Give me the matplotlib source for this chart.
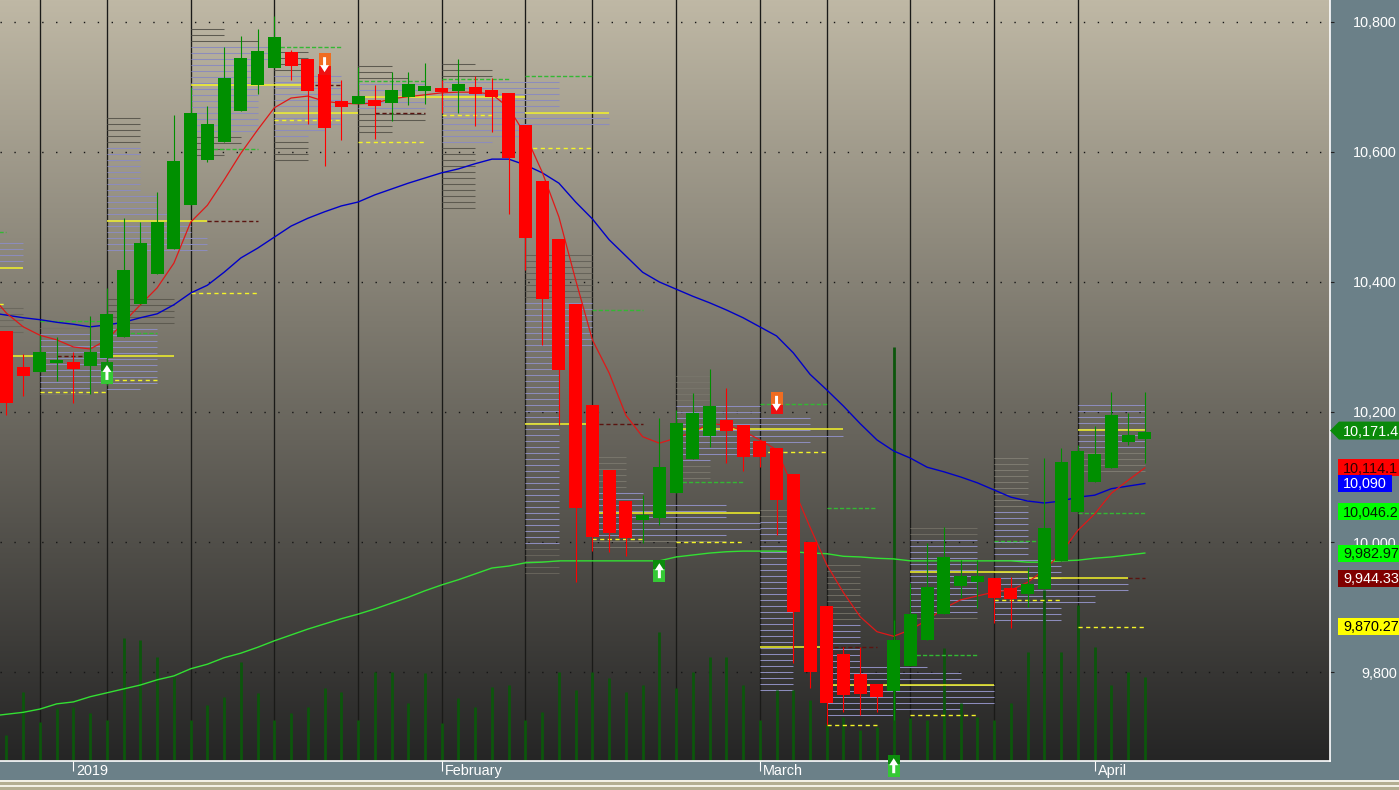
import numpy as np
import matplotlib as mpl
mpl.use("Agg")
import matplotlib.pyplot as plt
from matplotlib.colors import LinearSegmentedColormap
from matplotlib.patches import Polygon, Rectangle
from matplotlib.transforms import ScaledTranslation, blended_transform_factory

plt.rcParams["font.family"] = ["Liberation Sans", "DejaVu Sans"]

FIG_W, FIG_H = 1399, 790
PLOT_W, PLOT_H = 1330, 761
BAR_X0, BAR_DX = 6.5, 16.74
PRICE_TOP, PRICE_BOTTOM = 10833.8, 9663.1
PRICE_PER_PX = (PRICE_TOP - PRICE_BOTTOM) / PLOT_H
FONT_SIZE = 10.4

opens = [10325, 10269, 10262, 10275, 10277, 10271, 10283, 10315, 10366, 10412, 10451, 10518,
         10588, 10615, 10663, 10703, 10729, 10754, 10743, 10720, 10678, 10674, 10680, 10675,
         10685, 10694, 10698, 10694, 10700, 10695, 10691, 10642, 10555, 10466, 10366, 10211,
         10111, 10063, 10034, 10037, 10075, 10128, 10163, 10188, 10180, 10155, 10145, 10105,
         10000, 9902, 9828, 9797, 9782, 9771, 9809, 9849, 9889, 9932, 9938, 9945,
         9929, 9920, 9928, 9971, 10046, 10092, 10114, 10154, 10158]
highs = [10325, 10289, 10318, 10315, 10292, 10348, 10391, 10498, 10492, 10538, 10657, 10700,
         10671, 10762, 10778, 10789, 10809, 10757, 10743, 10742, 10711, 10731, 10703, 10723,
         10723, 10737, 10711, 10743, 10717, 10714, 10691, 10642, 10555, 10466, 10366, 10211,
         10111, 10063, 10072, 10191, 10203, 10229, 10266, 10237, 10180, 10155, 10145, 10105,
         10000, 9902, 9838, 9838, 9782, 9880, 9937, 9998, 10023, 9972, 9972, 9945,
         9946, 9962, 10129, 10145, 10149, 10178, 10231, 10198, 10231]
lows = [10195, 10225, 10262, 10248, 10214, 10228, 10242, 10315, 10366, 10412, 10451, 10518,
        10585, 10615, 10663, 10689, 10729, 10711, 10643, 10578, 10618, 10674, 10620, 10648,
        10672, 10674, 10660, 10660, 10640, 10631, 10505, 10418, 10303, 10180, 9938, 9986,
        9985, 9978, 9998, 10026, 10075, 10128, 10146, 10122, 10109, 10115, 10011, 9814,
        9775, 9718, 9739, 9734, 9739, 9726, 9809, 9849, 9889, 9914, 9898, 9875,
        9868, 9900, 9928, 9971, 10046, 10092, 10114, 10149, 10122]
closes = [10214, 10255, 10292, 10280, 10266, 10292, 10351, 10418, 10460, 10492, 10586, 10660,
          10643, 10714, 10745, 10755, 10777, 10732, 10694, 10637, 10669, 10686, 10671, 10695,
          10705, 10702, 10692, 10705, 10689, 10685, 10591, 10468, 10374, 10265, 10052, 10008,
          10014, 10006, 10042, 10115, 10183, 10198, 10209, 10171, 10131, 10131, 10065, 9892,
          9800, 9752, 9765, 9766, 9762, 9849, 9889, 9931, 9977, 9948, 9948, 9914,
          9912, 9935, 10022, 10123, 10140, 10135, 10195, 10165, 10169]
volumes = [26, 69, 39, 53, 54, 48, 41, 123, 121, 104, 84, 41,
           56, 64, 99, 68, 41, 48, 54, 73, 69, 41, 89, 89,
           58, 88, 38, 63, 54, 74, 76, 41, 49, 89, 71, 89,
           83, 69, 76, 129, 73, 89, 104, 104, 76, 41, 71, 71,
           61, 38, 44, 31, 34, 414, 43, 41, 113, 58, 44, 41,
           58, 109, 171, 109, 156, 114, 76, 89, 84]
# moving averages start one bar left of the first candle
ma_fast = [10382, 10352, 10331, 10318, 10311, 10300, 10297, 10311, 10338, 10365, 10391, 10429, 10492,
           10518, 10557, 10598, 10634, 10668, 10683, 10686, 10678, 10675, 10674, 10675, 10682,
           10685, 10688, 10691, 10692, 10692, 10689, 10668, 10626, 10569, 10500, 10403, 10311,
           10260, 10195, 10162, 10152, 10160, 10169, 10182, 10180, 10171, 10157, 10142, 10083,
           10023, 9965, 9922, 9885, 9862, 9855, 9865, 9880, 9898, 9911, 9917, 9923,
           9926, 9938, 9957, 9983, 10018, 10043, 10075, 10095, 10114]
ma_mid = [10353, 10349, 10345, 10342, 10338, 10335, 10331, 10334, 10338, 10345, 10351, 10365, 10383,
          10395, 10415, 10437, 10452, 10469, 10486, 10498, 10508, 10517, 10523, 10534, 10543,
          10552, 10560, 10568, 10574, 10582, 10589, 10589, 10580, 10568, 10552, 10523, 10497,
          10465, 10440, 10415, 10400, 10389, 10378, 10368, 10357, 10345, 10331, 10317, 10291,
          10258, 10234, 10209, 10182, 10157, 10140, 10129, 10115, 10108, 10100, 10091, 10080,
          10069, 10063, 10060, 10063, 10069, 10072, 10082, 10086, 10090]
ma_slow = [9732, 9735, 9738, 9743, 9751, 9754, 9762, 9768, 9774, 9780, 9788, 9794, 9805,
           9812, 9822, 9829, 9838, 9848, 9857, 9866, 9874, 9882, 9889, 9897, 9906,
           9915, 9925, 9934, 9942, 9951, 9960, 9963, 9968, 9969, 9971, 9971, 9971,
           9971, 9971, 9971, 9971, 9977, 9980, 9983, 9985, 9986, 9986, 9986, 9985,
           9983, 9982, 9978, 9977, 9975, 9974, 9971, 9971, 9971, 9971, 9971, 9971,
           9971, 9969, 9969, 9971, 9972, 9975, 9977, 9980, 9983]

week_starts = [2, 6, 11, 16, 21, 26, 31, 35, 40, 45, 49, 54, 59, 64]
month_bars = [4, 26, 45, 65]
month_labels = ["2019", "February", "March", "April"]
price_ticks = [9800, 10000, 10200, 10400, 10600, 10800]

# (first bar, last bar, price)
poc_levels = [(-1, 1, 10422), (0, 2, 10286), (6, 10, 10286), (6, 12, 10494), (11, 18, 10703),
              (16, 21, 10660), (21, 31, 10685), (31, 36, 10660), (31, 35, 10181), (35, 45, 10045),
              (40, 50, 10174), (45, 49, 9838), (49, 59, 9780), (54, 61, 9954), (61, 67, 9944),
              (64, 68, 10172)]
low_levels = [(-1, 0, 10366), (2, 6, 10231), (6, 9, 10249), (11, 15, 10383), (16, 20, 10649),
              (21, 25, 10615), (26, 29, 10657), (31, 35, 10606), (35, 38, 10005), (40, 44, 10000),
              (45, 49, 10139), (49, 52, 9718), (54, 58, 9734), (59, 63, 9911), (64, 68, 9870)]
high_levels = [(-1, 0, 10477), (2, 6, 10340), (7, 9, 10322), (12, 15, 10605), (16, 20, 10762),
               (21, 25, 10709), (26, 30, 10712), (31, 35, 10717), (35, 38, 10357), (40, 44, 10092),
               (45, 49, 10212), (49, 52, 10052), (54, 58, 9826), (59, 62, 10002), (64, 68, 10045)]
naked_levels = [(3, 5, 10286), (12, 15, 10494), (18, 20, 10703), (22, 25, 10660), (35, 38, 10181),
                (49, 52, 9838), (67, 68, 9944)]

# volume profile rows: first bar, top price, row lengths in bars, (grey, lavender, grey) row counts
PROFILE_STEP = 9.23
profile_starts = [-1, -1, 2, 6, 6, 11, 16, 21, 26, 31, 35, 40, 45, 49, 54, 59, 64]
profile_tops = [10460, 10360, 10329, 10652, 10374, 10789, 10754, 10732, 10735, 10442, 10131, 10255,
                10049, 9965, 10022, 10129, 10211]
profile_lengths = [
    [2, 2, 2, 2],
    [2, 2, 2, 2, 2],
    [3, 3, 4, 4, 4, 4, 4, 4, 4, 4, 3, 3],
    [2, 2, 2, 2, 2, 2, 2, 2, 2, 2, 2, 2, 2, 3, 3, 3, 4, 4, 5, 5, 6, 6, 6],
    [4, 4, 4, 4, 4, 3, 3, 3, 3, 3, 3, 3, 3, 3, 3, 2],
    [2, 2, 4, 5, 5, 5, 4, 4, 4, 4, 4, 4, 4, 4, 4, 4, 4, 4, 3, 3, 2, 2],
    [2, 2, 2, 2, 4, 4, 4, 4, 4, 4, 4, 4, 4, 3, 2, 2, 2, 2, 2],
    [2, 2, 3, 4, 4, 4, 4, 4, 4, 4, 2, 2],
    [2, 3, 3, 7, 7, 7, 7, 7, 7, 10, 10, 5, 5, 3, 2, 2, 2, 2, 2, 2, 2, 2, 2, 2, 2],
    [4] * 16 + [2] * 38,
    [2, 2, 2, 2, 2, 2, 3, 3, 8, 8, 8, 10, 10, 8, 8, 5],
    [2, 2, 2, 2, 2, 5, 5, 8, 8, 8, 10, 8, 5, 5, 2, 2, 2, 2],
    [2] * 31,
    [2] * 17 + [6, 8, 8, 10, 10, 10, 10, 8, 4],
    [4] * 16,
    [2] * 17 + [4, 4, 4, 4, 8, 8, 6, 6, 4, 4, 4],
    [4] * 12,
]
profile_kinds = [(0, 4, 0), (5, 0, 0), (1, 10, 1), (5, 18, 0), (5, 11, 0), (3, 15, 4), (4, 11, 4),
                 (3, 5, 4), (3, 11, 11), (8, 41, 5), (6, 8, 2), (5, 10, 3), (2, 29, 0), (10, 16, 0),
                 (2, 13, 1), (9, 19, 0), (0, 8, 4)]
profile_greys = ["#6b685e", "#6b685e", "#77746a", "#5d5a50", "#5d5a50", "#5d5a50", "#5d5a50",
                 "#5d5a50", "#5d5a50", "#66635a", "#77746a", "#77746a", "#77746a", "#6e6b62",
                 "#6e6b62", "#7d7a70", "#7d7a70"]

# signal markers: bar, top of box price
up_bars, up_prices = [6, 39, 53], [10277, 9972, 9672]
down_bars, down_prices = [19, 46], [10752, 10231]

# right-hand price tags
tag_prices = [10114.1, 10090, 10046.2, 9982.97, 9944.33, 9870.27]
tag_texts = ["10,114.1", "10,090", "10,046.2", "9,982.97", "9,944.33", "9,870.27"]
tag_colors = ["#ff0000", "#0000ff", "#00ff00", "#00ff00", "#800000", "#ffff00"]
tag_text_colors = ["#300000", "white", "#002000", "#002000", "white", "black"]
tag_widths = [61, 54, 61, 61, 61, 61]
last_price = 10171.4
last_text = "10,171.4"


def fig_rect(fig, x, y, w, h, color, zorder=0):
    # x, y, w, h in image pixels, y measured from the top
    fig.add_artist(Rectangle((x / FIG_W, 1 - (y + h) / FIG_H), w / FIG_W, h / FIG_H, color=color, lw=0,
                             transform=fig.transFigure, zorder=zorder))


def draw_levels(ax, levels, **style):
    for first, last, price in levels:
        ax.plot([first, last], [price, price], **style)


def draw_profiles(ax):
    for start, top, lengths, kinds, grey in zip(profile_starts, profile_tops, profile_lengths,
                                                profile_kinds, profile_greys):
        for r, length in enumerate(lengths):
            price = top - r * PROFILE_STEP
            lavender = kinds[0] <= r < kinds[0] + kinds[1]
            ax.plot([start, start + length], [price, price], lw=0.75, zorder=1.5,
                    color="#8c8cbc" if lavender else grey, solid_capstyle="butt")


def draw_marker(ax, bar, price, up):
    box_w = 12 / BAR_DX
    box_h = 22 * PRICE_PER_PX
    split = 9 * PRICE_PER_PX if up else 13 * PRICE_PER_PX
    top_color, low_color = ("#0c8c0c", "#35c835") if up else ("#f06c20", "#ee1010")
    ax.add_patch(Rectangle((bar - box_w / 2, price - split), box_w, split, color=top_color, lw=0,
                           zorder=7, clip_on=False))
    ax.add_patch(Rectangle((bar - box_w / 2, price - box_h), box_w, box_h - split, color=low_color, lw=0,
                           zorder=7, clip_on=False))
    px_x, px_y = 1 / BAR_DX, PRICE_PER_PX
    sign = 1 if up else -1
    tip = price - 11 * px_y + sign * 8 * px_y
    shape = [(bar, tip),
             (bar + 4.5 * px_x, tip - sign * 7 * px_y),
             (bar + 1.5 * px_x, tip - sign * 7 * px_y),
             (bar + 1.5 * px_x, tip - sign * 15 * px_y),
             (bar - 1.5 * px_x, tip - sign * 15 * px_y),
             (bar - 1.5 * px_x, tip - sign * 7 * px_y),
             (bar - 4.5 * px_x, tip - sign * 7 * px_y)]
    ax.add_patch(Polygon(shape, color="white", lw=0, zorder=8, clip_on=False))


def draw_tags(ax):
    trans = blended_transform_factory(ax.transAxes, ax.transData)
    tag_h = 17 * PRICE_PER_PX
    for price, text, color, text_color, width in zip(tag_prices, tag_texts, tag_colors,
                                                     tag_text_colors, tag_widths):
        ax.add_patch(Rectangle((1338 / PLOT_W, price - tag_h / 2), width / PLOT_W, tag_h, color=color, lw=0,
                               transform=trans, clip_on=False, zorder=9))
        ax.text(1343 / PLOT_W, price - PRICE_PER_PX, text, transform=trans, color=text_color,
                fontsize=FONT_SIZE, va="center", ha="left", clip_on=False, zorder=10)
    half = 9 * PRICE_PER_PX
    ax.add_patch(Polygon([(1330 / PLOT_W, last_price), (1339 / PLOT_W, last_price + half),
                          (1399 / PLOT_W, last_price + half), (1399 / PLOT_W, last_price - half),
                          (1339 / PLOT_W, last_price - half)], color="#0a8a0a", lw=0,
                         transform=trans, clip_on=False, zorder=9))
    ax.text(1343 / PLOT_W, last_price - PRICE_PER_PX, last_text, transform=trans, color="white",
            fontsize=FONT_SIZE, va="center", ha="left", clip_on=False, zorder=10)


def plot_chart(figpath):
    fig = plt.figure(figsize=(FIG_W / 100, FIG_H / 100), dpi=100, facecolor="#6b8088")
    fig_rect(fig, 0, 780, FIG_W, 2, "#f2f0e6")
    fig_rect(fig, 0, 782, FIG_W, 3, "#b3ae92")
    fig_rect(fig, 0, 785, FIG_W, 2, "#f2f0e6")
    fig_rect(fig, 0, 787, FIG_W, 3, "#b3ae92")

    ax = fig.add_axes([0, 1 - PLOT_H / FIG_H, PLOT_W / FIG_W, PLOT_H / FIG_H])
    ax.set_axisbelow(True)
    cmap = LinearSegmentedColormap.from_list("backdrop", ["#bfb8a5", "#252525"])
    ax.imshow(np.linspace(0, 1, 256).reshape(-1, 1), extent=[0, 1, 0, 1], transform=ax.transAxes,
              aspect="auto", cmap=cmap, zorder=0)

    xs = np.arange(len(opens))
    ma_xs = np.arange(-1, len(opens))
    ax.grid(axis="y", color="#161616", lw=1, ls=(0, (1, 9)), zorder=0.5)
    for bar in week_starts:
        ax.axvline(bar, color="#1a1a18", lw=0.95, zorder=1)

    draw_profiles(ax)
    ax.vlines(xs, PRICE_BOTTOM, PRICE_BOTTOM + np.array(volumes) * PRICE_PER_PX, color="#0c560c",
              lw=2, zorder=2)

    draw_levels(ax, poc_levels, color="#f4f428", lw=1.1, zorder=2.2, solid_capstyle="butt")
    draw_levels(ax, low_levels, color="#f4f428", lw=1, ls=(0, (3, 2.5)), zorder=2.2)
    draw_levels(ax, high_levels, color="#33b833", lw=1, ls=(0, (3, 1.5)), zorder=2.2)
    draw_levels(ax, naked_levels, color="#5a1410", lw=1, ls=(0, (3, 2)), zorder=2.2)

    ax.plot(ma_xs, ma_slow, color="#33e033", lw=1, zorder=3)
    ax.plot(ma_xs, ma_mid, color="#0000c8", lw=1, zorder=3)
    ax.plot(ma_xs, ma_fast, color="#e01818", lw=0.9, zorder=3)

    o, h, l, c = map(np.array, (opens, highs, lows, closes))
    colors = np.where(c >= o, "#008f00", "#ff0000")
    ax.vlines(xs, l, h, color=colors, lw=0.8, zorder=4)
    ax.bar(xs, np.abs(c - o), bottom=np.minimum(o, c), width=13 / BAR_DX, color=colors, lw=0, zorder=5)

    for bar, price in zip(up_bars, up_prices):
        draw_marker(ax, bar, price, True)
    for bar, price in zip(down_bars, down_prices):
        draw_marker(ax, bar, price, False)

    ax.set_xlim(-BAR_X0 / BAR_DX, (PLOT_W - BAR_X0) / BAR_DX)
    ax.set_ylim(PRICE_BOTTOM, PRICE_TOP)

    ax.yaxis.tick_right()
    ax.set_yticks(price_ticks, [f"{p:,}" for p in price_ticks])
    ax.tick_params(axis="y", length=3, width=0.8, color="#222222", pad=45, labelcolor="white",
                   labelsize=FONT_SIZE)
    for label in ax.get_yticklabels():
        label.set_ha("right")
    ax.set_xticks(month_bars, month_labels)
    ax.tick_params(axis="x", length=7, width=0.8, color="white", pad=-5, labelcolor="white",
                   labelsize=FONT_SIZE)
    offset = ScaledTranslation(3 / 100, 0, fig.dpi_scale_trans)
    for label in ax.get_xticklabels():
        label.set_ha("left")
        label.set_transform(label.get_transform() + offset)

    for side in ("top", "left"):
        ax.spines[side].set_visible(False)
    for side in ("right", "bottom"):
        ax.spines[side].set_color("white")
        ax.spines[side].set_linewidth(1.2)

    draw_tags(ax)
    fig.savefig(figpath, dpi=100, facecolor=fig.get_facecolor())


if __name__ == "__main__":
    plot_chart("out.png")
